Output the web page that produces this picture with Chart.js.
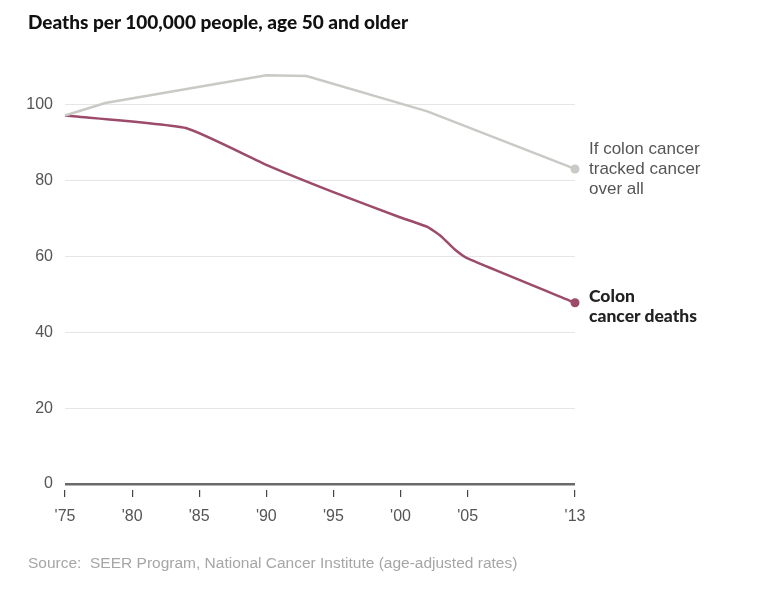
<!DOCTYPE html>
<html>
<head>
<meta charset="utf-8">
<script src="https://cdn.jsdelivr.net/npm/chart.js@4"></script>
<style>
  body { margin: 0; background: #fff; }
  #wrap { position: relative; width: 768px; height: 591px; }
  #chart { position: absolute; left: 0; top: 0; }
  .txt { position: absolute; font-family: "Liberation Sans", Arial, sans-serif; white-space: nowrap; }
  #title { left: 28px; top: 10px; font-family: Lato, sans-serif; font-weight: 900; font-size: 19px; line-height: 23px; color: #111; }
  .note { font-size: 17px; line-height: 20px; color: #555; left: 589px; }
  .note.bold { font-family: Lato, sans-serif; font-weight: 900; font-size: 17.5px; color: #222; }
  #source { left: 28px; top: 554px; font-size: 15.5px; line-height: 18px; color: #a6a6a6; }
</style>
</head>
<body>
<div id="wrap">
  <canvas id="chart" width="768" height="591"></canvas>
  <div id="title" class="txt">Deaths per 100,000 people, age 50 and older</div>
  <div class="txt note" style="top:139px">If colon cancer<br>tracked cancer<br>over all</div>
  <div class="txt note bold" style="top:286px">Colon<br>cancer deaths</div>
  <div id="source" class="txt">Source:&nbsp; SEER Program, National Cancer Institute (age-adjusted rates)</div>
</div>
<script>
const colonYears = [1975, 1984, 1990, 1995, 2000, 2002, 2003, 2004, 2005, 2013];
const colonDeaths = [97.2, 93.9, 84.2, 77.0, 70.3, 67.8, 65.4, 62.0, 59.5, 47.8];

const overallYears = [1975, 1978, 1990, 1993, 2002, 2013];
const overallTrack = [97.2, 100.5, 107.8, 107.6, 98.3, 83.1];

const yearTicks = [1975, 1980, 1985, 1990, 1995, 2000, 2005, 2013];
const valueTicks = [0, 20, 40, 60, 80, 100];

const toPoints = (xs, ys) => xs.map((x, i) => ({ x: x, y: ys[i] }));
const lastDot = r => ctx => ctx.dataIndex === ctx.dataset.data.length - 1 ? r : 0;

const ctx = document.getElementById('chart').getContext('2d');
const chart = new Chart(ctx, {
  type: 'line',
  data: {
    datasets: [{
      label: 'If colon cancer tracked cancer over all',
      data: toPoints(overallYears, overallTrack),
      borderColor: '#c9c9c5',
      backgroundColor: '#c9c9c5',
      borderWidth: 2.5,
      pointRadius: lastDot(4.5),
      pointBorderWidth: 0,
      tension: 0,
      clip: false
    }, {
      label: 'Colon cancer deaths',
      data: toPoints(colonYears, colonDeaths),
      borderColor: '#9c4b6b',
      backgroundColor: '#9c4b6b',
      borderWidth: 2.5,
      pointRadius: lastDot(4.5),
      pointBorderWidth: 0,
      tension: 0.15,
      clip: false
    }]
  },
  options: {
    responsive: false,
    animation: false,
    layout: { padding: { left: 15, right: 193, top: 67, bottom: 60 } },
    plugins: { legend: { display: false }, tooltip: { enabled: false } },
    scales: {
      x: {
        type: 'linear',
        min: 1975,
        max: 2013,
        afterBuildTicks: s => { s.ticks = yearTicks.map(v => ({ value: v })); },
        afterFit: s => { s.height = 41; },
        border: { display: false },
        grid: { drawOnChartArea: false, drawTicks: true, tickLength: 7, color: '#444', lineWidth: 1.2 },
        ticks: {
          padding: 10,
          color: '#555',
          font: { family: 'Liberation Sans', size: 16 },
          maxRotation: 0,
          callback: v => "'" + String(v).slice(2)
        }
      },
      y: {
        min: -1.6,
        max: 110,
        afterBuildTicks: s => { s.ticks = valueTicks.map(v => ({ value: v })); },
        afterFit: s => { s.width = 50; },
        border: { display: false },
        grid: {
          drawTicks: false,
          color: c => c.tick && c.tick.value === 0 ? '#6a6a6a' : '#e6e6e6',
          lineWidth: c => c.tick && c.tick.value === 0 ? 2.5 : 1
        },
        ticks: {
          padding: 12,
          color: '#555',
          font: { family: 'Liberation Sans', size: 16 }
        }
      }
    }
  }
});
</script>
</body>
</html>
